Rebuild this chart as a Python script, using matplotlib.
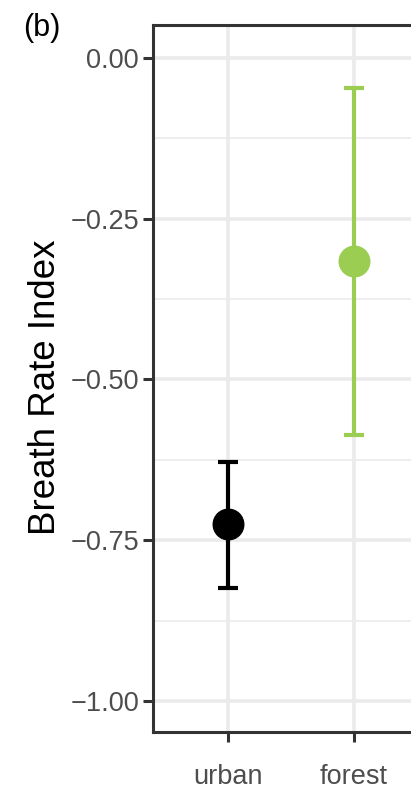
import numpy as np
import matplotlib
matplotlib.use("Agg")
import matplotlib.pyplot as plt
from matplotlib.ticker import FuncFormatter, MultipleLocator

plt.rcParams['font.family'] = ['Liberation Sans', 'DejaVu Sans']

# data
habitat = ["urban", "forest"]
mean_bri = [-0.725, -0.316]
upper_bri = [-0.628, -0.047]
lower_bri = [-0.824, -0.586]
colours = ["#000000", "#9ACD52"]

fig = plt.figure(figsize=(4.11, 7.91), dpi=100)
# panel is wider than the crop, the right part falls outside the picture
ax = fig.add_axes([153 / 411, 59 / 791, 401 / 411, 707 / 791])

xpos = np.arange(len(habitat))
for i in range(len(habitat)):
    yerr = [[mean_bri[i] - lower_bri[i]], [upper_bri[i] - mean_bri[i]]]
    ax.errorbar(xpos[i], mean_bri[i], yerr=yerr, fmt="o", color=colours[i],
                ms=22, elinewidth=3, capsize=7, capthick=3, zorder=3)

ax.set_xlim(-0.6, 2.6)
ax.set_ylim(-1.048, 0.051)
ax.set_xticks(xpos)
ax.set_xticklabels(habitat)
ax.yaxis.set_major_locator(MultipleLocator(0.25))
ax.yaxis.set_minor_locator(MultipleLocator(0.125))
ax.yaxis.set_major_formatter(FuncFormatter(lambda v, p: f"{v:.2f}".replace("-", "\u2212")))

ax.grid(which="major", color="#EBEBEB", lw=2.6, zorder=0)
ax.grid(which="minor", axis="y", color="#EBEBEB", lw=1.2, zorder=0)
ax.set_axisbelow(True)

for s in ax.spines.values():
    s.set_color("#333333")
    s.set_linewidth(2.2)

ax.tick_params(axis="both", which="major", length=7, width=2.2, color="#333333",
               labelcolor="#4D4D4D", labelsize=19.5)
ax.tick_params(axis="y", which="major", pad=3)
ax.tick_params(axis="x", which="major", pad=16)
ax.tick_params(axis="y", which="minor", length=0)

ax.set_ylabel("Breath Rate Index", fontsize=26.5, color="black")
ax.yaxis.set_label_coords(-0.225, 0.487)

fig.text(23 / 411, 1 - 13 / 791, "(b)", fontsize=22, va="top", ha="left")

fig.savefig("out.png", dpi=100)
